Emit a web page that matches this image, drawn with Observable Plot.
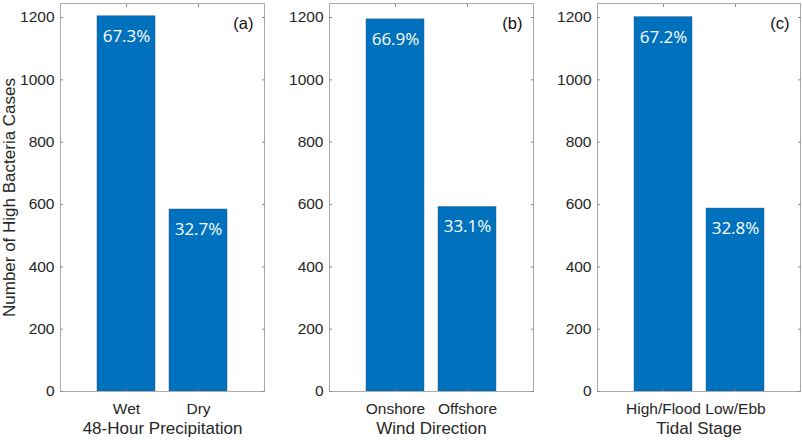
<!DOCTYPE html>
<html>
<head>
<meta charset="utf-8">
<script src="https://cdn.jsdelivr.net/npm/d3@7"></script>
<script src="https://cdn.jsdelivr.net/npm/@observablehq/plot@0.6"></script>
<style>
  html, body { margin: 0; padding: 0; background: #fff; }
  #wrap { position: relative; width: 802px; height: 440px; overflow: hidden; }
  #wrap > div { position: absolute; top: 0; }
  svg { overflow: visible; }
</style>
</head>
<body>
<div id="wrap"></div>
<script>
// ---- data ----
const panelTags = ["(a)", "(b)", "(c)"];
const catsA = ["Wet", "Dry"];
const valsA = [1204, 584];
const pctA = ["67.3%", "32.7%"];
const catsB = ["Onshore", "Offshore"];
const valsB = [1194, 592];
const pctB = ["66.9%", "33.1%"];
const catsC = ["High/Flood", "Low/Ebb"];
const valsC = [1201, 587];
const pctC = ["67.2%", "32.8%"];
const xTitles = ["48-Hour Precipitation", "Wind Direction", "Tidal Stage"];
const yTitle = "Number of High Bacteria Cases";
const yTicks = [0, 200, 400, 600, 800, 1000, 1200];
const yMax = 1245;

const series = [
  [catsA, valsA, pctA],
  [catsB, valsB, pctB],
  [catsC, valsC, pctC]
];

// layout of each panel's svg (left offset, width, marginLeft)
const layout = [
  {left: 0, width: 266, ml: 60},
  {left: 267, width: 268, ml: 62},
  {left: 535, width: 267, ml: 62}
];

const barColor = "#0072BD";
const tickFont = "'Liberation Sans', Arial, Helvetica, sans-serif";
const pctFont = "'Open Sans', 'Noto Sans', sans-serif";

const wrap = document.getElementById("wrap");

series.forEach(([cats, vals, pcts], i) => {
  const data = cats.map((c, j) => ({cat: c, value: vals[j], pct: pcts[j]}));
  const L = layout[i];
  const marks = [
    Plot.barY(data, {x: "cat", y: "value", fill: barColor, stroke: "#1d4f7a", strokeWidth: 0.6, strokeOpacity: 0.7}),
    Plot.text(data, {x: "cat", y: "value", text: "pct", dy: 20, fill: "white", fontSize: 17, fontFamily: pctFont, lineAnchor: "middle"}),
    Plot.frame({stroke: "#ababab", strokeWidth: 1}),
    Plot.axisY(yTicks, {anchor: "left", tickSize: -3, tickPadding: 9, tickFormat: d3.format("d"), stroke: "#8a8a8a", fill: "#262626", fontSize: 15.5, fontFamily: tickFont, label: null}),
    Plot.axisY(yTicks, {anchor: "right", tickSize: -3, tickFormat: () => "", stroke: "#8a8a8a", label: null}),
    Plot.axisX({anchor: "top", tickSize: -3, tickFormat: () => "", stroke: "#8a8a8a", label: null}),
    Plot.axisX({anchor: "bottom", tickSize: -3, tickPadding: 14, stroke: "#6a6a6a", fill: "#262626", fontSize: 15.5, fontFamily: tickFont, label: null}),
    Plot.text([xTitles[i]], {frameAnchor: "bottom", dy: 37, text: d => d, fill: "#262626", fontSize: 17, fontFamily: tickFont, lineAnchor: "middle"}),
    Plot.text([panelTags[i]], {frameAnchor: "top-right", dx: -11, dy: 20, text: d => d, fill: "#111", fontSize: 16.5, fontFamily: tickFont, textAnchor: "end", lineAnchor: "middle"})
  ];
  if (i === 0) {
    marks.push(Plot.text([yTitle], {frameAnchor: "left", dx: -51, text: d => d, rotate: -90, fill: "#262626", fontSize: 17, fontFamily: tickFont, textAnchor: "middle", lineAnchor: "middle"}));
  }
  const chart = Plot.plot({
    width: L.width,
    height: 440,
    marginLeft: L.ml,
    marginRight: 2,
    marginTop: 3,
    marginBottom: 49,
    style: {background: "transparent", color: "#262626", overflow: "visible"},
    x: {type: "band", domain: cats, paddingInner: 0.2, paddingOuter: 0.5, axis: null},
    y: {domain: [0, yMax], axis: null},
    marks
  });
  const holder = document.createElement("div");
  holder.style.left = L.left + "px";
  holder.appendChild(chart);
  wrap.appendChild(holder);
});
</script>
</body>
</html>
